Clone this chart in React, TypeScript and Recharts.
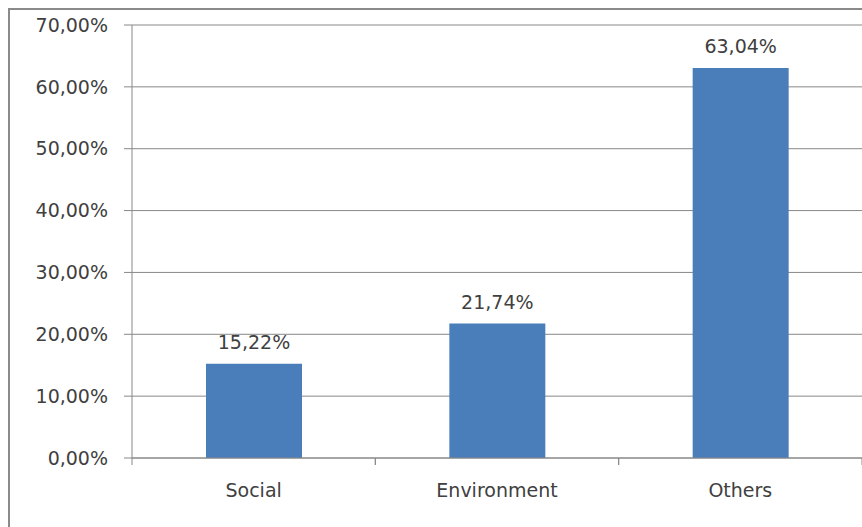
import React from "react";
import { Bar, BarChart, CartesianGrid, LabelList, XAxis, YAxis } from "recharts";

const categories = ["Social", "Environment", "Others"];
const shares = [15.22, 21.74, 63.04];
const yTicks = [0, 10, 20, 30, 40, 50, 60, 70];

const data = categories.map((name, i) => ({ name, share: shares[i] }));

const fmt = (v: number) => `${Number(v).toFixed(2).replace(".", ",")}%`;

const FONT = "'DejaVu Sans', sans-serif";
const TEXT = "#404040";
const LINE = "#888888";

function CategoryTick(props: any) {
  const { x, y, payload } = props;
  const half = payload?.offset ?? 730 / 6;
  return (
    <g>
      <line x1={x - half} y1={y} x2={x - half} y2={y + 7} stroke={LINE} />
      <line x1={x + half} y1={y} x2={x + half} y2={y + 7} stroke={LINE} />
      <text x={x} y={y + 39} textAnchor="middle" fill={TEXT} fontSize={19} fontFamily={FONT}>
        {payload.value}
      </text>
    </g>
  );
}

export default function App() {
  return (
    <div style={{ position: "absolute", left: 0, top: 0, width: 862, height: 527, background: "#fff" }}>
      <div
        style={{
          position: "absolute",
          left: 8,
          top: 8,
          width: 870,
          height: 540,
          borderLeft: "2px solid #8a8a8a",
          borderTop: "2px solid #8a8a8a",
        }}
      />
      <div style={{ position: "absolute", left: 0, top: 0 }}>
        <BarChart width={862} height={527} data={data} margin={{ top: 25, right: 0, bottom: 0, left: 0 }}>
          <CartesianGrid vertical={false} stroke={LINE} />
          <XAxis
            dataKey="name"
            height={69}
            axisLine={{ stroke: LINE }}
            tickLine={false}
            tickSize={0}
            tickMargin={0}
            interval={0}
            tick={<CategoryTick />}
          />
          <YAxis
            width={132}
            domain={[0, 70]}
            ticks={yTicks}
            interval={0}
            tickFormatter={fmt}
            axisLine={{ stroke: LINE }}
            tickLine={{ stroke: LINE }}
            tickSize={8}
            tickMargin={16}
            tick={{ fill: TEXT, fontSize: 19, fontFamily: FONT }}
          />
          <Bar dataKey="share" fill="#4a7ebb" barSize={96} isAnimationActive={false}>
            <LabelList
              dataKey="share"
              position="top"
              offset={15}
              formatter={(v: any) => fmt(v)}
              fill={TEXT}
              fontSize={19}
              fontFamily={FONT}
            />
          </Bar>
        </BarChart>
      </div>
    </div>
  );
}
